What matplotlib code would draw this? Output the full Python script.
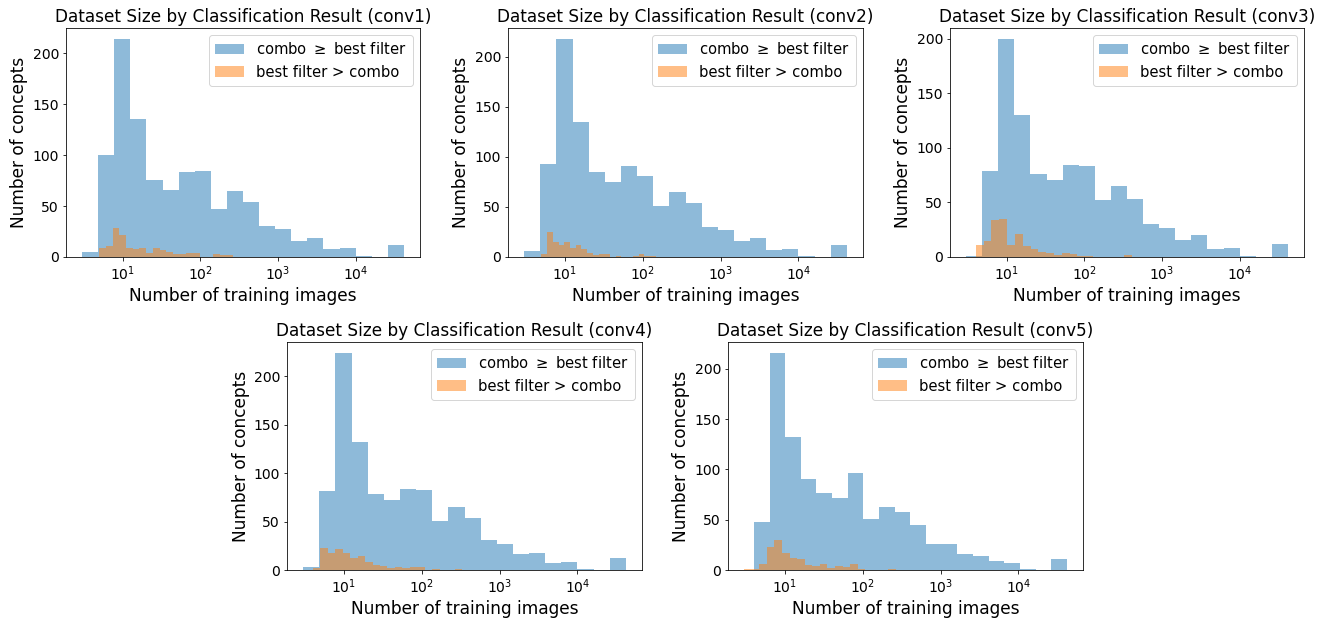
import numpy as np
import matplotlib
matplotlib.use("Agg")
import matplotlib.pyplot as plt
from matplotlib.ticker import NullLocator

layers = ["conv1", "conv2", "conv3", "conv4", "conv5"]

# bin ranges (min, max number of training images) for each series
blue_range = {"conv1": (3, 42000), "conv2": (3, 42000), "conv3": (3, 42000),
              "conv4": (3, 42000), "conv5": (4, 42000)}
orange_range = {"conv1": (5, 266), "conv2": (5, 147), "conv3": (4, 415),
                "conv4": (4, 330), "conv5": (3, 265)}

# counts per bin (20 log-spaced bins each)
combo_counts = {
    "conv1": [5, 100, 214, 135, 76, 66, 83, 84, 47, 65, 54, 30, 27, 16, 19, 8, 9, 1, 0, 12],
    "conv2": [6, 93, 218, 135, 85, 75, 91, 81, 51, 65, 54, 30, 27, 16, 19, 7, 8, 1, 0, 12],
    "conv3": [1, 79, 200, 130, 76, 71, 84, 83, 52, 65, 53, 30, 27, 16, 20, 7, 8, 1, 0, 12],
    "conv4": [3, 81, 224, 132, 78, 72, 84, 83, 51, 65, 54, 31, 27, 16, 18, 7, 8, 1, 0, 12],
    "conv5": [48, 216, 132, 91, 77, 72, 96, 51, 63, 58, 45, 26, 26, 16, 14, 9, 7, 1, 0, 11],
}
best_counts = {
    "conv1": [9, 11, 28, 22, 9, 8, 9, 4, 9, 7, 5, 3, 3, 4, 4, 0, 0, 3, 2, 2],
    "conv2": [3, 25, 15, 12, 15, 9, 12, 8, 4, 2, 3, 3, 0, 1, 0, 0, 1, 3, 1, 1],
    "conv3": [11, 15, 34, 35, 11, 21, 10, 7, 5, 4, 2, 4, 3, 1, 1, 0, 0, 0, 0, 2],
    "conv4": [2, 23, 18, 22, 18, 12, 14, 8, 5, 4, 2, 3, 2, 3, 3, 0, 1, 0, 0, 1],
    "conv5": [1, 1, 6, 23, 30, 17, 12, 11, 5, 4, 6, 2, 4, 3, 6, 1, 0, 0, 0, 1],
}

label_combo = "combo $\\geq$ best filter"
label_best = "best filter > combo"

plt.rcParams["font.size"] = 14
plt.rcParams["font.family"] = ["DejaVu Sans"]

W, H = 1327, 619
fig = plt.figure(figsize=(W / 72, H / 72), dpi=72)

# axes rectangles in pixels: (left, top, right, bottom)
rects = [(66, 28, 420, 257), (508, 28, 863, 257), (950, 28, 1304, 257),
         (287, 342, 642, 570), (728, 342, 1083, 570)]

for name, (l, t, r, b) in zip(layers, rects):
    ax = fig.add_axes([l / W, 1 - b / H, (r - l) / W, (b - t) / H])
    lo, hi = blue_range[name]
    e1 = np.logspace(np.log10(lo), np.log10(hi), len(combo_counts[name]) + 1)
    lo, hi = orange_range[name]
    e2 = np.logspace(np.log10(lo), np.log10(hi), len(best_counts[name]) + 1)
    ax.hist(e1[:-1], bins=e1, weights=combo_counts[name], alpha=0.5,
            color="#1f77b4", label=label_combo)
    ax.hist(e2[:-1], bins=e2, weights=best_counts[name], alpha=0.5,
            color="#ff7f0e", label=label_best)
    ax.set_xscale("log")
    ax.xaxis.set_minor_locator(NullLocator())
    ax.tick_params(labelsize=14)
    ax.set_title(f"Dataset Size by Classification Result ({name})", fontsize=16.9)
    ax.set_xlabel("Number of training images", fontsize=17)
    ax.set_ylabel("Number of concepts", fontsize=17)
    ax.legend(loc="upper right", fontsize=14.8)

fig.savefig("out.png", dpi=72)
